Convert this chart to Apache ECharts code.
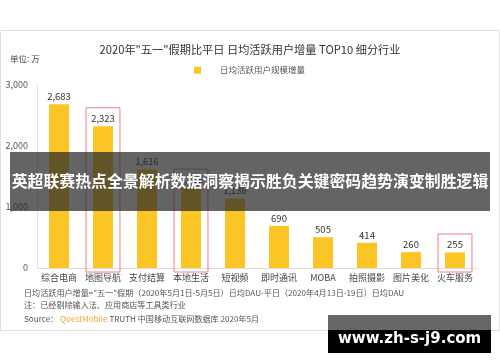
<!DOCTYPE html>
<html><head><meta charset="utf-8">
<script src="https://cdn.jsdelivr.net/npm/echarts@6/dist/echarts.min.js"></script>
<style>html,body{margin:0;padding:0;background:#fff}#c{width:500px;height:362px}</style>
</head><body><div id="c"></div>
<script>
const categories = ['综合电商','地图导航','支付结算','本地生活','短视频','即时通讯','MOBA','拍照摄影','图片美化','火车服务'];
const values = [2683, 2323, 1616, 1318, 1138, 690, 505, 414, 260, 255];
const highlighted = ['地图导航','本地生活','火车服务'];
const yTicks = [0, 1000, 2000, 3000];
const seriesName = '日均活跃用户规模增量';
const titleText = '2020年"五一"假期比平日 日均活跃用户增量 TOP10 细分行业';
const unitText = '单位: 万';
const note1 = '日均活跃用户增量="五一"假期（2020年5月1日-5月5日）日均DAU-平日（2020年4月13日-19日）日均DAU';
const note2 = '注：已经剔除输入法、应用商店等工具类行业';
const bannerText = '英超联赛热点全景解析数据洞察揭示胜负关键密码趋势演变制胜逻辑';
const watermarkText = 'www.zh-s-j9.com';

const FONT = '"Noto Sans CJK SC", "Noto Sans", sans-serif';
const chart = echarts.init(document.getElementById('c'));
const boxData = highlighted.map(c => [categories.indexOf(c), values[categories.indexOf(c)]]);

chart.setOption({
  animation: false,
  textStyle: {fontFamily: FONT},
  title: {
    text: titleText, left: 'center', top: 39,
    textStyle: {fontSize: 11.2, fontWeight: 'normal', color: '#333', fontFamily: FONT}
  },
  legend: {
    data: [seriesName], left: 189, top: 61,
    icon: 'rect', itemWidth: 7, itemHeight: 7,
    textStyle: {fontSize: 8.5, color: '#555', padding: [0, 0, 0, 14], fontFamily: FONT}
  },
  grid: {left: 37, right: 23, top: 85, bottom: 94, containLabel: false},
  xAxis: {
    type: 'category', data: categories,
    axisLine: {lineStyle: {color: '#ddd'}},
    axisTick: {show: false},
    axisLabel: {fontSize: 9, color: '#444', margin: 5, interval: 0, fontFamily: FONT}
  },
  yAxis: {
    type: 'value', min: yTicks[0], max: yTicks[yTicks.length - 1], interval: 1000,
    axisLine: {show: true, lineStyle: {color: '#e3e3e3'}},
    axisTick: {show: false},
    splitLine: {show: false},
    axisLabel: {fontSize: 9, color: '#555', margin: 9, fontFamily: FONT,
      formatter: v => v.toLocaleString('en-US')}
  },
  series: [
    {
      name: seriesName, type: 'bar', data: values, barWidth: 20,
      itemStyle: {color: '#fcc526'},
      label: {show: true, position: 'top', distance: 3, fontSize: 9.5, color: '#333',
        fontFamily: FONT, formatter: p => p.value.toLocaleString('en-US')}
    },
    {
      type: 'custom', data: boxData, clip: false, silent: true, z: 5,
      renderItem: (params, api) => {
        const top = api.coord([api.value(0), api.value(1)]);
        const base = api.coord([api.value(0), 0]);
        const w = api.size([1, 0])[0] * 0.77;
        return {
          type: 'rect',
          shape: {x: top[0] - w / 2, y: top[1] - 18.5, width: w, height: base[1] - top[1] + 22.5},
          style: {fill: 'none', stroke: '#f07f86', lineWidth: 1}
        };
      }
    }
  ],
  graphic: [
    {type: 'rect', left: 0, top: 30, z: -10, shape: {width: 499, height: 300},
      style: {fill: '#fff', stroke: '#e0e0e0', lineWidth: 1}},
    {type: 'text', left: 10, top: 55, style: {text: unitText, fill: '#444', font: '8.5px ' + FONT}},
    {type: 'text', left: 24, top: 289, style: {text: note1, fill: '#555', font: '8.1px ' + FONT}},
    {type: 'text', left: 24, top: 301, style: {text: note2, fill: '#555', font: '8.1px ' + FONT}},
    {type: 'text', left: 24, top: 315, style: {
      rich: {a: {fill: '#555', font: '8.1px ' + FONT}, b: {fill: '#f5a23a', font: '8.1px ' + FONT}},
      text: '{a|Source： }{b|QuestMobile}{a| TRUTH 中国移动互联网数据库 2020年5月}'}},
    {type: 'rect', left: 10, top: 152, z: 50, shape: {width: 480, height: 59},
      style: {fill: 'rgba(40,40,40,0.72)'}},
    {type: 'text', left: 'center', top: 173, z: 51, style: {text: bannerText, fill: '#fff',
      font: 'bold 15.9px ' + FONT}},
    {type: 'rect', left: 328, top: 315, z: 50, shape: {width: 163, height: 15}, style: {fill: '#666'}},
    {type: 'rect', left: 328, top: 330, z: 50, shape: {width: 163, height: 23}, style: {fill: '#000'}},
    {type: 'text', left: 338, top: 332, z: 51, style: {text: watermarkText, fill: '#fff',
      font: 'bold 15px "DejaVu Sans", sans-serif'}}
  ]
});
</script></body></html>
